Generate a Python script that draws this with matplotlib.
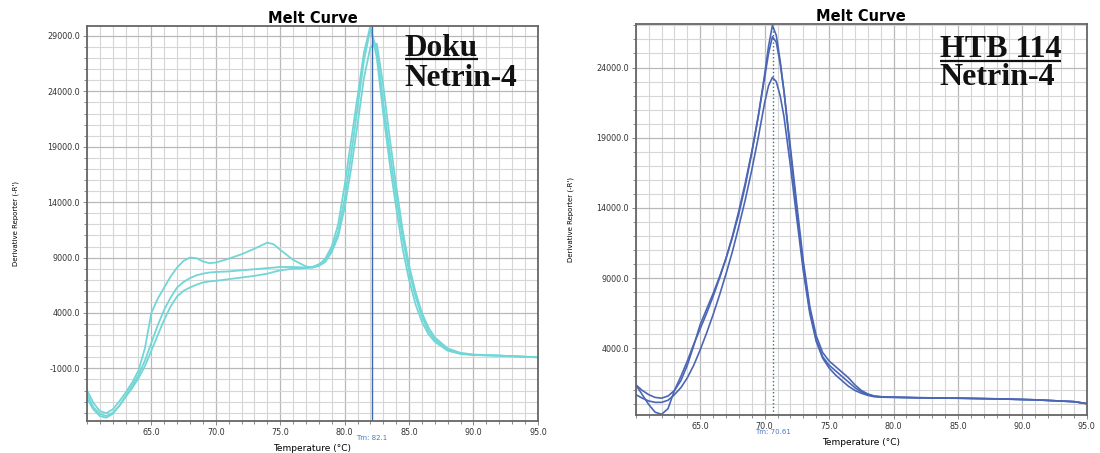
import numpy as np
import matplotlib
matplotlib.use("Agg")
import matplotlib.pyplot as plt
from matplotlib.ticker import MultipleLocator, FormatStrFormatter

# --- left panel: Doku / Netrin-4 ---
temp_left = [60, 60.5, 61, 61.5, 62, 62.5, 63, 63.5, 64, 64.5,
             65, 65.5, 66, 66.5, 67, 67.5, 68, 68.5, 69, 69.5,
             70, 71, 72, 73, 74, 74.5, 75, 76, 77, 77.5,
             78, 78.5, 79, 79.5, 80, 80.5, 81, 81.5, 82, 82.5,
             83, 83.5, 84, 84.5, 85, 85.5, 86, 86.5, 87, 88,
             89, 90, 92, 95]
doku_a = [-2950, -4100, -4850, -5050, -4700, -4000, -3200, -2300, -1200, 800,
          4000, 5300, 6300, 7300, 8100, 8700, 9000, 8950, 8650, 8500,
          8550, 8900, 9300, 9800, 10350, 10200, 9700, 8800, 8200, 8100,
          8300, 8900, 10000, 12000, 15500, 19500, 23500, 27500, 29900, 27000,
          22000, 17500, 13500, 9800, 7000, 4800, 3200, 2100, 1400, 600,
          300, 200, 150, 0]
doku_b = [-3700, -4700, -5300, -5450, -5100, -4400, -3500, -2600, -1600, -300,
          1300, 2900, 4300, 5400, 6300, 6800, 7150, 7400, 7550, 7650,
          7700, 7750, 7850, 7950, 8050, 8100, 8150, 8150, 8100, 8150,
          8400, 8800, 9700, 11300, 14300, 18200, 22500, 26800, 29600, 27800,
          23000, 18500, 14500, 10800, 7800, 5500, 3700, 2400, 1600, 700,
          350, 220, 150, 0]
doku_c = [-3300, -4500, -5100, -5300, -5000, -4400, -3600, -2800, -1900, -800,
          600, 2000, 3400, 4600, 5500, 6000, 6300, 6550, 6750, 6850,
          6900, 7050, 7200, 7350, 7550, 7700, 7850, 8000, 8050, 8100,
          8250, 8600, 9500, 10900, 13500, 17000, 21000, 25200, 28000, 28300,
          24500, 19800, 15500, 11500, 8300, 5900, 4000, 2700, 1800, 800,
          400, 250, 150, 0]
tm_left = 82.1

# --- right panel: HTB 114 / Netrin-4 ---
temp_right = [60, 60.5, 61, 61.5, 62, 62.5, 63, 63.5, 64, 64.5,
              65, 65.5, 66, 66.5, 67, 67.5, 68, 68.5, 69, 69.5,
              70, 70.3, 70.6, 70.9, 71.2, 71.5, 72, 72.5, 73, 73.5,
              74, 74.5, 75, 75.5, 76, 76.5, 77, 77.5, 78, 78.5,
              79, 80, 82, 85, 88, 91, 94, 95]
htb_a = [1400, 1000, 700, 500, 450, 600, 1000, 1700, 2800, 4200,
         5700, 6800, 7900, 9100, 10400, 11900, 13600, 15600, 17900, 20500,
         23500, 25500, 27000, 26300, 24500, 22300, 18000, 13800, 9800, 6700,
         4600, 3400, 2800, 2400, 2000, 1600, 1200, 900, 700, 600,
         550, 520, 480, 450, 400, 330, 200, 60]
htb_b = [1400, 700, 0, -550, -700, -300, 1000, 2000, 3100, 4300,
         5400, 6500, 7700, 9000, 10400, 12000, 13800, 15800, 18000, 20500,
         23300, 25000, 26200, 25800, 24300, 22300, 18300, 14200, 10200, 7000,
         4900, 3700, 3100, 2700, 2300, 1900, 1400, 1000, 750, 600,
         550, 520, 480, 450, 400, 330, 200, 60]
htb_c = [700, 450, 250, 150, 150, 300, 700, 1200, 1900, 2800,
         3900, 5100, 6400, 7800, 9300, 10900, 12700, 14600, 16700, 19000,
         21500, 22700, 23300, 23000, 22000, 20500, 17000, 13200, 9500, 6500,
         4500, 3300, 2600, 2100, 1700, 1300, 1000, 800, 650, 550,
         520, 500, 470, 440, 400, 330, 200, 60]
tm_right = 70.61

x_ticks = [65, 70, 75, 80, 85, 90, 95]


def style_axes(ax, ylim, yticks, ylabelpad):
    ax.set_xlim(60, 95)
    ax.set_ylim(*ylim)
    ax.set_xticks(x_ticks)
    ax.set_yticks(yticks)
    ax.xaxis.set_minor_locator(MultipleLocator(1))
    ax.yaxis.set_minor_locator(MultipleLocator(1000))
    ax.xaxis.set_major_formatter(FormatStrFormatter('%.1f'))
    ax.yaxis.set_major_formatter(FormatStrFormatter('%.1f'))
    ax.grid(which='major', color='#b8b8b8', lw=0.9)
    ax.grid(which='minor', color='#d6d6d6', lw=0.8)
    ax.set_axisbelow(True)
    ax.tick_params(which='both', direction='out', colors='#777777',
                   labelcolor='#333333', labelsize=5.8, length=3, width=0.6,
                   pad=2)
    ax.tick_params(which='minor', length=2)
    for s in ax.spines.values():
        s.set_color('#666666')
        s.set_linewidth(1.3)
    ax.set_title('Melt Curve', fontsize=10.5, fontweight='bold', pad=1)
    ax.set_xlabel('Temperature (°C)', fontsize=6.5, labelpad=5)
    ax.set_ylabel("Derivative Reporter (-R')", fontsize=5, labelpad=ylabelpad)


def tm_label(ax, tm, text, color):
    ax.annotate(text, xy=(tm, 0), xycoords=ax.get_xaxis_transform(),
                xytext=(0, -10), textcoords='offset points',
                ha='center', va='top', fontsize=5, color=color)


def sample_label(fig, ax, top, bottom, x0, y0, y1, size):
    t1 = ax.text(x0, y0, top, transform=ax.transAxes, fontsize=size,
                 fontweight='bold', family='Liberation Serif', color='#111111')
    ax.text(x0, y1, bottom, transform=ax.transAxes, fontsize=size,
            fontweight='bold', family='Liberation Serif', color='#111111')
    fig.canvas.draw()
    bb = t1.get_window_extent().transformed(ax.transAxes.inverted())
    ax.plot([bb.x0, bb.x1], [y0 - 0.009, y0 - 0.009],
            transform=ax.transAxes, color='#111111', lw=1.6,
            solid_capstyle='butt')


fig = plt.figure(figsize=(11, 4.53), dpi=100)
ax1 = fig.add_axes([0.079, 0.0706, 0.410, 0.8720])
ax2 = fig.add_axes([0.578, 0.0839, 0.410, 0.8631])

style_axes(ax1, (-5750, 29900), [-1000, 4000, 9000, 14000, 19000, 24000, 29000], 20)
for ys in (doku_a, doku_b, doku_c):
    ax1.plot(temp_left, ys, color='#72d6d6', lw=1.3)
ax1.axvline(tm_left, color='#3a68b4', lw=1.0)
tm_label(ax1, tm_left, 'Tm: 82.1', '#4a78c8')

style_axes(ax2, (-750, 27100), [4000, 9000, 14000, 19000, 24000], 16)
for ys in (htb_a, htb_b, htb_c):
    ax2.plot(temp_right, ys, color='#4c66b6', lw=1.2)
ax2.axvline(tm_right, color='#2f7080', lw=1.0, ls=':')
tm_label(ax2, tm_right, 'Tm: 70.61', '#4a78c8')

sample_label(fig, ax1, 'Doku', 'Netrin-4', 0.705, 0.925, 0.849, 22.5)
sample_label(fig, ax2, 'HTB 114', 'Netrin-4', 0.674, 0.915, 0.844, 23)

fig.savefig('out.png', dpi=100)
